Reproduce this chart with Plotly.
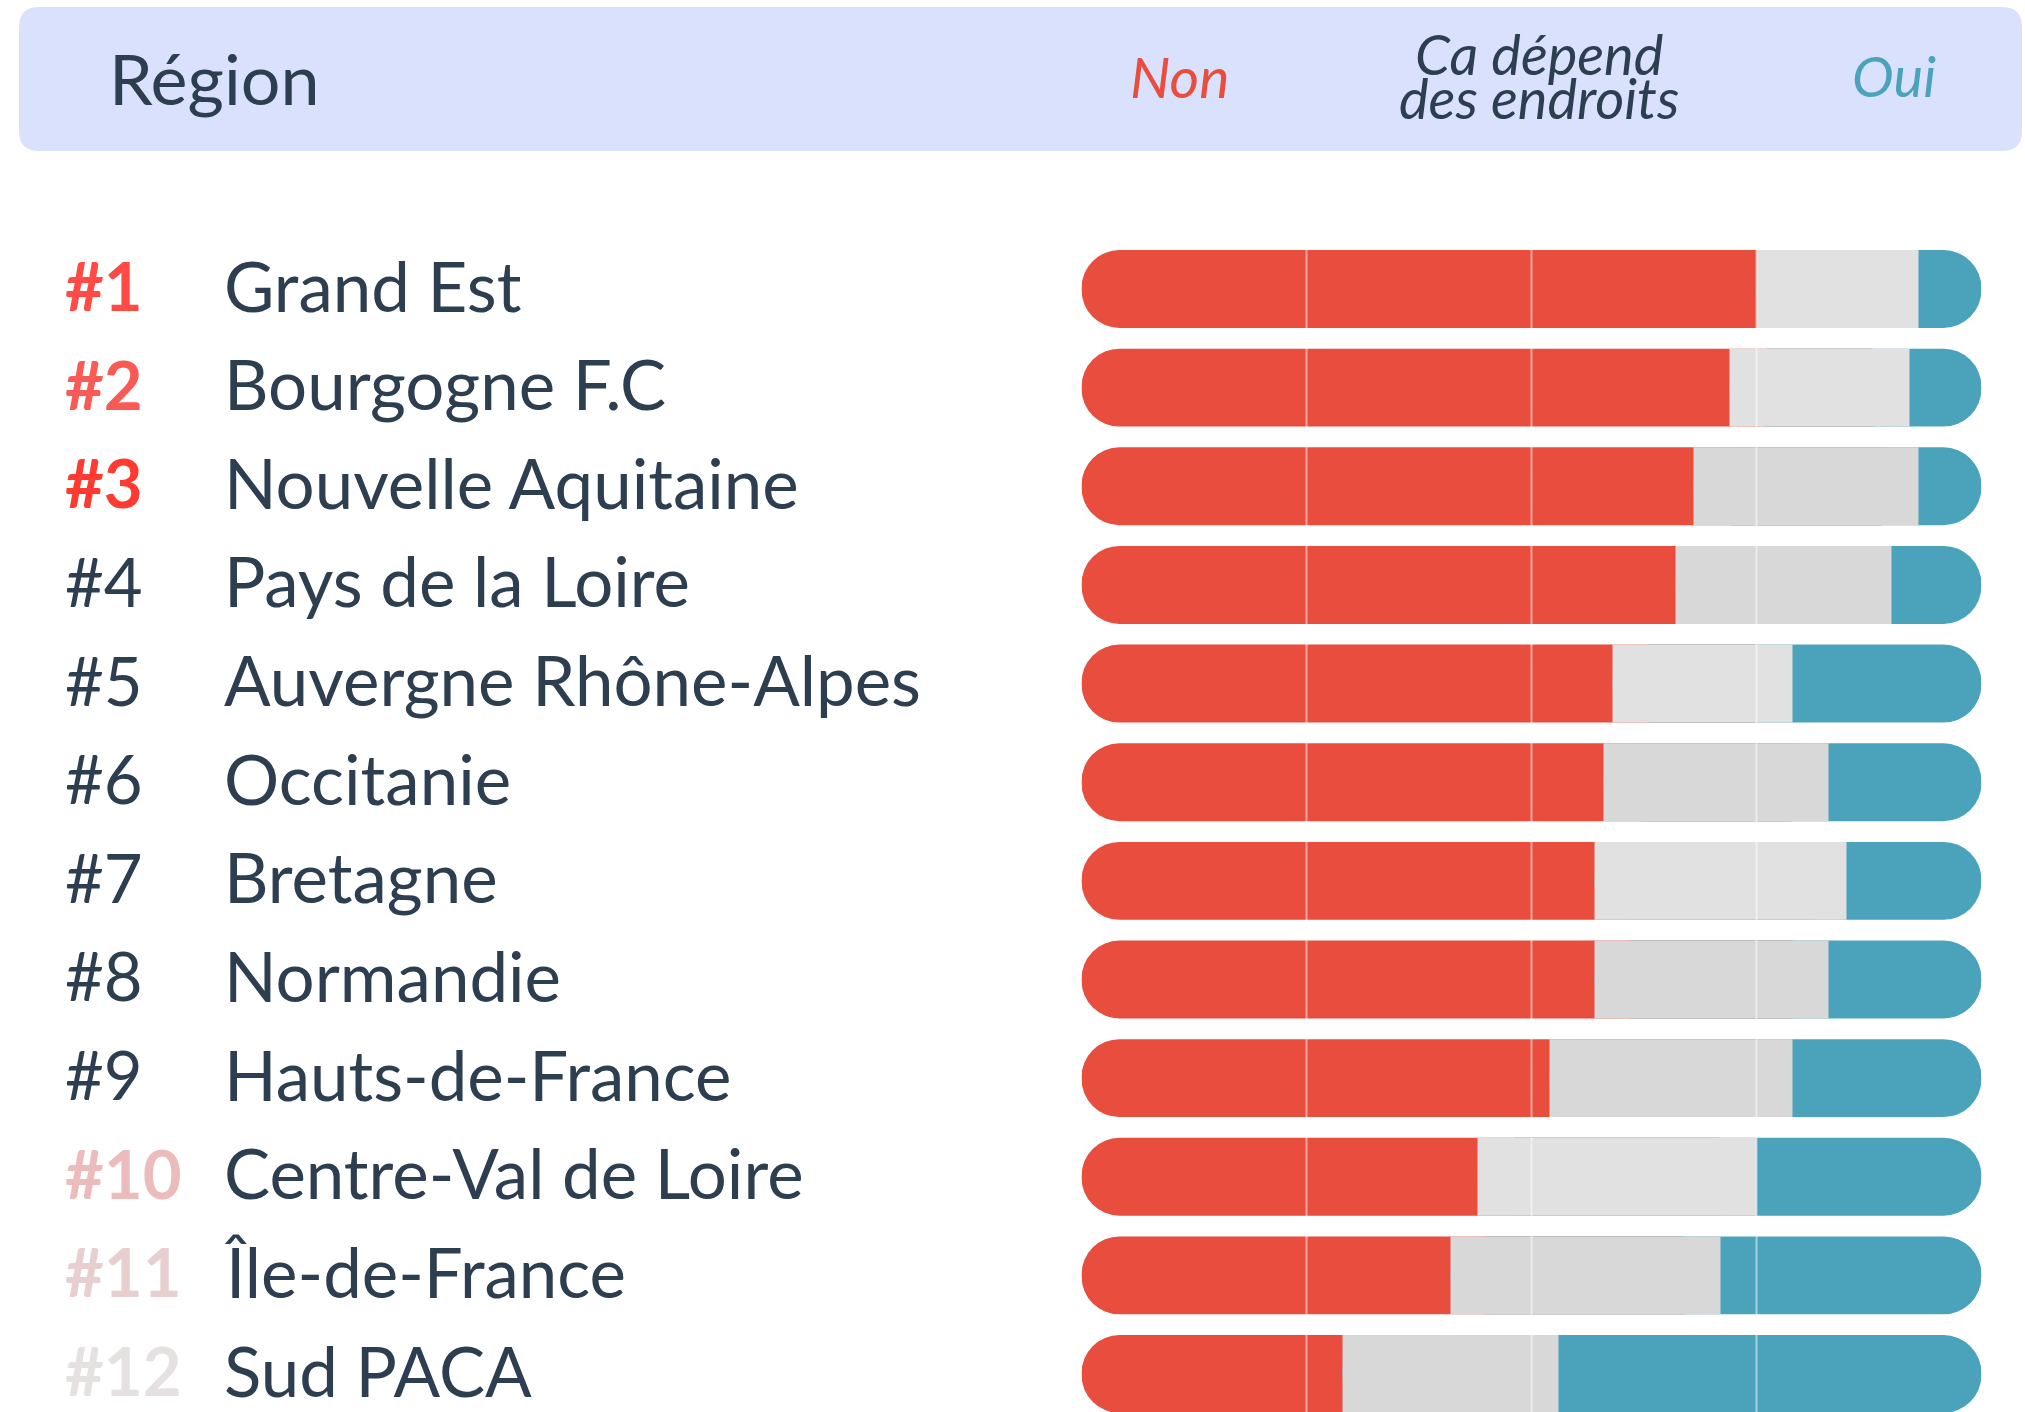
import plotly.graph_objects as go

# ---------------- data ----------------
ranks = ["#1", "#2", "#3", "#4", "#5", "#6", "#7", "#8", "#9", "#10", "#11", "#12"]
regions = ["Grand Est", "Bourgogne F.C", "Nouvelle Aquitaine", "Pays de la Loire",
           "Auvergne Rhône-Alpes", "Occitanie", "Bretagne", "Normandie",
           "Hauts-de-France", "Centre-Val de Loire", "Île-de-France", "Sud PACA"]
non_pct = [75, 72, 68, 66, 59, 58, 57, 57, 52, 44, 41, 29]
depend_pct = [18, 20, 25, 24, 20, 25, 28, 26, 27, 31, 30, 24]
oui_pct = [7, 8, 7, 10, 21, 17, 15, 17, 21, 25, 29, 47]
grid_vals = [25, 50, 75]
header_labels = ["Non", "Ca dépend", "des endroits", "Oui"]

# ---------------- styles ----------------
W, H = 2025, 1412
FONT = "Lato"
DARK = "#2C3E50"
RED = "#E84D3D"
BLUE = "#4AA3BA"
GRAY_L = "#E1E1E1"
GRAY_D = "#D8D8D8"
gray_colors = [GRAY_L, GRAY_L, GRAY_D, GRAY_D, GRAY_L, GRAY_D, GRAY_L, GRAY_D,
               GRAY_D, GRAY_L, GRAY_D, GRAY_D]
rank_colors = ["#FF4A45", "#FA5A55", "#FF3A30"] + [DARK] * 6 + ["#EBBCBB", "#E8CFCF", "#E5E1E1"]
rank_bold = [True, True, True] + [False] * 6 + [True, True, True]


def px(x):
    return x / W


def py(y):
    return 1 - y / H


non_dep = [a + b for a, b in zip(non_pct, depend_pct)]
dep_oui = [b + c for b, c in zip(depend_pct, oui_pct)]

fig = go.Figure()

# red: drawn from the end of the grey part back to 0 -> rounded cap on the left,
# the right end is hidden under the grey segment
fig.add_trace(go.Bar(
    y=regions, x=[-v for v in non_dep], base=non_dep, orientation="h",
    marker=dict(color=RED, cornerradius="50%", line=dict(width=0)),
    name="Non", hoverinfo="skip"))
# blue: drawn from the start of the grey part to 100 -> rounded cap on the right
fig.add_trace(go.Bar(
    y=regions, x=dep_oui, base=non_pct, orientation="h",
    marker=dict(color=BLUE, cornerradius="50%", line=dict(width=0)),
    name="Oui", hoverinfo="skip"))
# grey on top
fig.add_trace(go.Bar(
    y=regions, x=depend_pct, base=non_pct, orientation="h",
    marker=dict(color=gray_colors, line=dict(width=0)),
    name="Ca dépend des endroits", hoverinfo="skip"))

shapes = []
# header rounded box
x0, x1, y0, y1, r = 19, 2022, 7, 151, 20
path = (f"M {px(x0 + r)},{py(y0)} L {px(x1 - r)},{py(y0)} "
        f"Q {px(x1)},{py(y0)} {px(x1)},{py(y0 + r)} L {px(x1)},{py(y1 - r)} "
        f"Q {px(x1)},{py(y1)} {px(x1 - r)},{py(y1)} L {px(x0 + r)},{py(y1)} "
        f"Q {px(x0)},{py(y1)} {px(x0)},{py(y1 - r)} L {px(x0)},{py(y0 + r)} "
        f"Q {px(x0)},{py(y0)} {px(x0 + r)},{py(y0)} Z")
shapes.append(dict(type="path", path=path, xref="paper", yref="paper",
                   fillcolor="#D9E1FD", line=dict(width=0), layer="below"))
# grid lines above the bars
for g in grid_vals:
    shapes.append(dict(type="line", xref="x", yref="y domain", x0=g, x1=g, y0=0, y1=1,
                       line=dict(color="rgba(255,255,255,0.5)", width=2), layer="above"))

annotations = []
for rk, reg, col, b in zip(ranks, regions, rank_colors, rank_bold):
    annotations.append(dict(
        x=px(63), y=reg, xref="paper", yref="y", xanchor="left", yanchor="middle",
        yshift=4, text=f"<b>{rk}</b>" if b else rk, showarrow=False,
        font=dict(family=FONT, size=67, color=col)))
    annotations.append(dict(
        x=px(222), y=reg, xref="paper", yref="y", xanchor="left", yanchor="middle",
        yshift=4, text=reg, showarrow=False, font=dict(family=FONT, size=69, color=DARK)))

annotations.append(dict(x=px(107), y=py(78), xref="paper", yref="paper", xanchor="left",
                        yanchor="middle", text="Région", showarrow=False,
                        font=dict(family=FONT, size=70, color=DARK)))
annotations.append(dict(x=px(1179), y=py(76), xref="paper", yref="paper", xanchor="center",
                        yanchor="middle", text=f"<i>{header_labels[0]}</i>", showarrow=False,
                        font=dict(family=FONT, size=57, color=RED)))
annotations.append(dict(x=px(1539), y=py(53), xref="paper", yref="paper", xanchor="center",
                        yanchor="middle", text=f"<i>{header_labels[1]}</i>", showarrow=False,
                        font=dict(family=FONT, size=56, color=DARK)))
annotations.append(dict(x=px(1539), y=py(98), xref="paper", yref="paper", xanchor="center",
                        yanchor="middle", text=f"<i>{header_labels[2]}</i>", showarrow=False,
                        font=dict(family=FONT, size=56, color=DARK)))
annotations.append(dict(x=px(1894), y=py(76), xref="paper", yref="paper", xanchor="center",
                        yanchor="middle", text=f"<i>{header_labels[3]}</i>", showarrow=False,
                        font=dict(family=FONT, size=56, color=BLUE)))

fig.update_layout(
    width=W, height=H,
    margin=dict(l=0, r=0, t=0, b=0, pad=0),
    paper_bgcolor="white", plot_bgcolor="white",
    barmode="overlay", bargap=0.21,
    showlegend=False,
    shapes=shapes, annotations=annotations,
    xaxis=dict(domain=[1081.5 / W, 1981.5 / W], range=[0, 100], showgrid=False,
               zeroline=False, showticklabels=False, showline=False, fixedrange=True),
    yaxis=dict(domain=[0, py(239.7)], range=[11.385, -0.5], type="category",
               showgrid=False, zeroline=False, showticklabels=False, showline=False,
               fixedrange=True),
    font=dict(family=FONT, color=DARK),
)

fig.write_html("out.html", config={"displayModeBar": False},
               post_script="document.body.style.margin='0';")
